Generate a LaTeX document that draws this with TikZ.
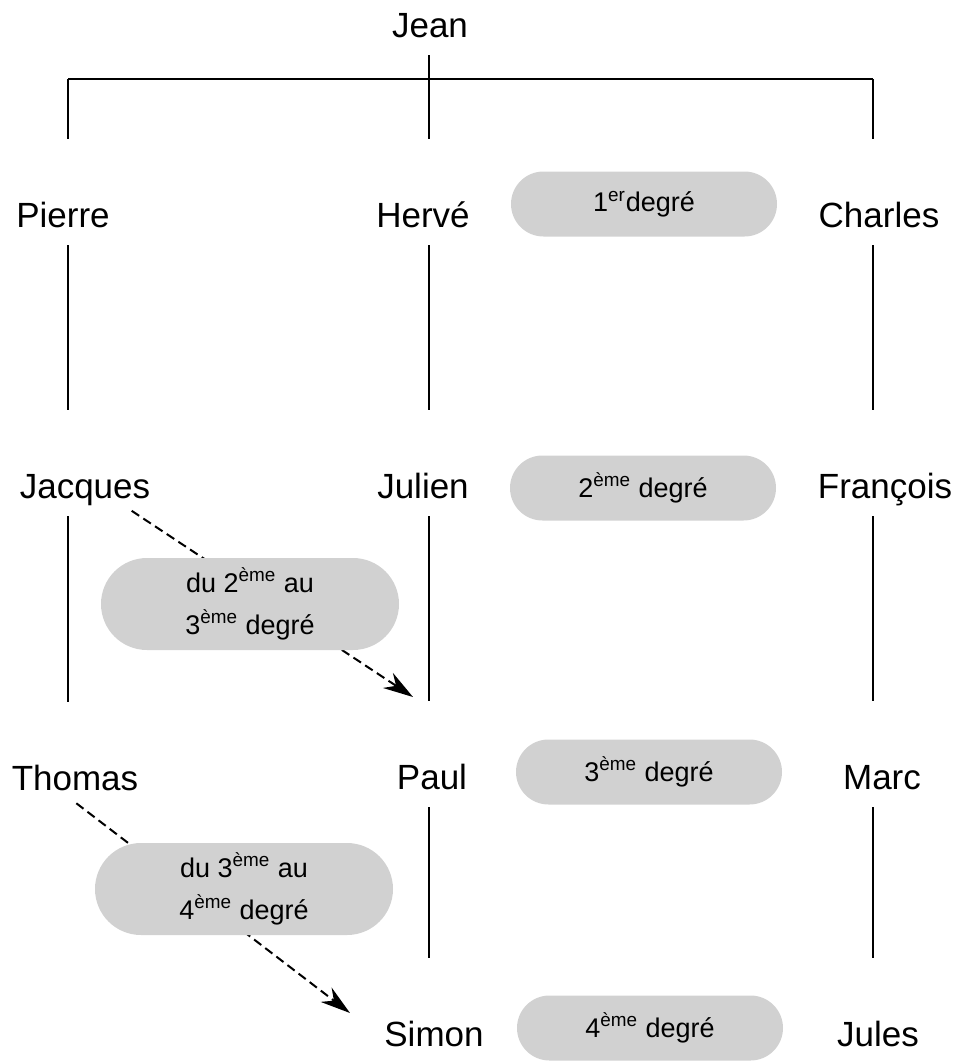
\documentclass[tikz,border=0pt]{standalone}
\usepackage{fontspec}
\setmainfont{Liberation Sans}
\usetikzlibrary{shapes.misc, arrows.meta}

\tikzset{
  nom/.style={font=\fontsize{17.5}{21}\selectfont, inner sep=0pt, text height=13pt, text depth=4pt},
  degre/.style={rounded rectangle, fill=black!18, font=\fontsize{13.5}{21}\selectfont, align=center,
    minimum width=137pt, minimum height=32.5pt, inner sep=2pt},
  saut/.style={degre, minimum width=153pt, minimum height=46pt},
  lien/.style={line width=0.8pt, shorten <=5pt, shorten >=31pt},
  fleche/.style={->, line width=1pt, dash pattern=on 4.5pt off 2.5pt},
}

\begin{document}
\begin{tikzpicture}[x=0.5pt, y=-0.5pt, >={Stealth[length=15pt,width=9pt]}]
\useasboundingbox (0,0) rectangle (956,1061);

% colonnes
\coordinate (colA) at (68,0);
\coordinate (colB) at (429,0);
\coordinate (colC) at (873,0);
\coordinate (barre) at (429,79);

% personnes
\node[nom] (Jean) at (430,28) {Jean};
\node[nom] (Pierre) at (63,218) {Pierre};
\node[nom] (Herve) at (423,218) {Hervé};
\node[nom] (Charles) at (879,218) {Charles};
\node[nom] (Jacques) at (85,489) {Jacques};
\node[nom] (Julien) at (423,489) {Julien};
\node[nom] (Francois) at (885,489) {François};
\node[nom] (Thomas) at (75,781) {Thomas};
\node[nom] (Paul) at (432,780) {Paul};
\node[nom] (Marc) at (882,780) {Marc};
\node[nom] (Simon) at (434,1037) {Simon};
\node[nom] (Jules) at (878,1037) {Jules};

% filiation
\draw[line width=0.8pt] (barre -| colA) -- (barre -| colC);
\draw[lien] (colB |- Jean.south) -- (colB |- Herve.north);
\draw[lien, shorten <=0pt] (barre -| colA) -- (colA |- Pierre.north);
\draw[lien, shorten <=0pt] (barre -| colC) -- (colC |- Charles.north);
\draw[lien] (colA |- Pierre.south) -- (colA |- Jacques.north);
\draw[lien] (colB |- Herve.south) -- (colB |- Julien.north);
\draw[lien] (colC |- Charles.south) -- (colC |- Francois.north);
\draw[lien] (colA |- Jacques.south) -- (colA |- Thomas.north);
\draw[lien] (colB |- Julien.south) -- (colB |- Paul.north);
\draw[lien] (colC |- Francois.south) -- (colC |- Marc.north);
\draw[lien] (colB |- Paul.south) -- (colB |- Simon.north);
\draw[lien] (colC |- Marc.south) -- (colC |- Jules.north);

% sauts de degre
\coordinate (f1) at (413,697);
\coordinate (f2) at (350,1013);
\draw[fleche, shorten <=4pt] ([xshift=20pt]Jacques.south) -- (f1);
\draw[fleche, shorten <=4pt] ([xshift=-2.5pt]Thomas.south) -- (f2);

% degres
\node[degre] (d1) at (644,204) {1\textsuperscript{er}degré};
\node[degre] (d2) at (643,488) {2\textsuperscript{ème} degré};
\node[degre] (d3) at (649,772) {3\textsuperscript{ème} degré};
\node[degre] (d4) at (650,1028) {4\textsuperscript{ème} degré};
\node[saut] (s1) at (250,604) {du 2\textsuperscript{ème} au\\3\textsuperscript{ème} degré};
\node[saut] (s2) at (244,889) {du 3\textsuperscript{ème} au\\4\textsuperscript{ème} degré};

\end{tikzpicture}
\end{document}
